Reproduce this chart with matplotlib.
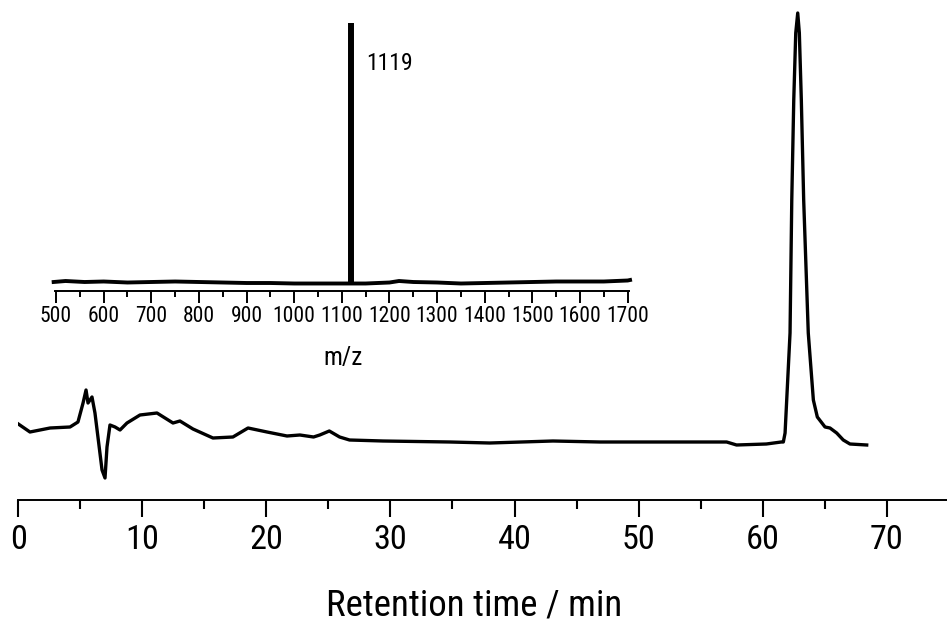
import matplotlib
matplotlib.use("Agg")
import matplotlib.pyplot as plt
import matplotlib.font_manager as fm
from matplotlib.ticker import MultipleLocator

# ---------------- data ----------------
# chromatogram: retention time (min) and detector response (arb. units)
rt_min = [0.0, 0.94, 2.56, 4.17, 4.81, 5.22, 5.46, 5.62, 5.94, 6.18, 6.42, 6.75,
          6.99, 7.15, 7.39, 7.80, 8.20, 8.76, 9.81, 11.18, 12.47, 13.03, 14.08,
          15.69, 17.30, 18.52, 20.05, 21.66, 22.70, 23.80, 24.30, 25.07, 25.90,
          26.70, 29.40, 34.80, 38.00, 43.10, 46.90, 52.30, 57.10, 57.90, 60.30,
          61.50, 61.67, 61.81, 62.21, 62.35, 62.51, 62.67, 62.83, 62.96, 63.12,
          63.31, 63.68, 64.09, 64.41, 65.03, 65.43, 65.97, 66.50, 67.04, 68.39]
response = [76, 68, 72, 73, 78, 97, 110, 97, 103, 87, 63, 30,
            22, 53, 75, 73, 70, 77, 85, 87, 77, 79, 71,
            62, 63, 72, 68, 64, 65, 63, 65, 69, 63,
            60, 59, 58, 57, 59, 58, 58, 58, 55, 56,
            58, 58, 67, 167, 300, 400, 467, 487, 467, 400,
            300, 167, 100, 83, 73, 72, 67, 60, 56, 55]

# inset mass spectrum: m/z and relative intensity (arb. units)
mz_base = [495, 520, 560, 600, 650, 700, 750, 800, 850, 900, 950, 1000, 1050,
           1100, 1115, 1125, 1150, 1200, 1220, 1250, 1300, 1350, 1400, 1450,
           1500, 1550, 1600, 1650, 1700, 1705]
int_base = [9, 10, 9, 9.5, 8.5, 9, 9.5, 9, 8.5, 8, 8, 7.5, 7.5,
            7.5, 7.5, 7.5, 7.5, 8.5, 10, 9, 8.5, 7.5, 8, 8.5,
            9, 9.5, 9.5, 9.5, 10.5, 11]
peak_mz = 1119
peak_int = 268
peak_label = "1119"

rt_ticks = [0, 10, 20, 30, 40, 50, 60, 70]
mz_ticks = list(range(500, 1701, 100))

# ---------------- fonts ----------------
names = {f.name for f in fm.fontManager.ttflist}
if "Liberation Sans Narrow" in names:
    FAM = "Liberation Sans Narrow"
    k = 1.0
elif "Roboto Condensed" in names:
    FAM = "Roboto Condensed"
    k = 0.95
else:
    FAM = "Liberation Sans"
    k = 0.85
plt.rcParams["font.family"] = [FAM, "DejaVu Sans"]

W, H = 947, 623
fig = plt.figure(figsize=(W / 100, H / 100), dpi=100)

# ---------------- main axes ----------------
x0, x1 = 18.3, 948.7   # pixel positions of 0 and 75 min
yb, yt = 500, 0
ax = fig.add_axes([x0 / W, (H - yb) / H, (x1 - x0) / W, (yb - yt) / H])
ax.plot(rt_min, response, color="black", lw=2.4, solid_joinstyle="round")
ax.set_xlim(0, 75)
ax.set_ylim(0, 500)
for s in ("top", "right", "left"):
    ax.spines[s].set_visible(False)
ax.spines["bottom"].set_linewidth(1.4)
ax.set_yticks([])
ax.set_xticks(rt_ticks)
ax.xaxis.set_minor_locator(MultipleLocator(5))
ax.tick_params(axis="x", which="major", direction="out", length=12.5, width=1.5,
               pad=5, labelsize=26 * k)
ax.tick_params(axis="x", which="minor", direction="out", length=6.5, width=1.5)
ax.set_xlabel("Retention time / min", fontsize=28 * k, va="baseline")
ax.xaxis.set_label_coords((474 - x0) / (x1 - x0), -115 / 500)
ax.patch.set_alpha(0)

# ---------------- inset axes ----------------
ix0, ix1 = 54.6, 629.1   # pixel positions of m/z 497 and 1703
iyb, iyt = 291, 20
axi = fig.add_axes([ix0 / W, (H - iyb) / H, (ix1 - ix0) / W, (iyb - iyt) / H])
axi.plot(mz_base, int_base, color="black", lw=2.8, clip_on=False)
axi.vlines(peak_mz, int_base[14], peak_int, color="black", lw=4.3)
axi.set_xlim(497, 1703)
axi.set_ylim(0, 271)
for s in ("top", "right", "left"):
    axi.spines[s].set_visible(False)
axi.spines["bottom"].set_linewidth(1.4)
axi.set_yticks([])
axi.set_xticks(mz_ticks)
axi.xaxis.set_minor_locator(MultipleLocator(50))
axi.tick_params(axis="x", which="major", direction="out", length=8.6, width=1.4,
                pad=2.5, labelsize=16.3 * k)
axi.tick_params(axis="x", which="minor", direction="out", length=4.5, width=1.4)
axi.set_xlabel("m/z", fontsize=19 * k, va="baseline")
axi.xaxis.set_label_coords((343 - ix0) / (ix1 - ix0), -74 / 271)
axi.text(peak_mz + 33, 228, peak_label, fontsize=18 * k, ha="left", va="center")
axi.patch.set_alpha(0)

fig.savefig("out.png", dpi=100)
